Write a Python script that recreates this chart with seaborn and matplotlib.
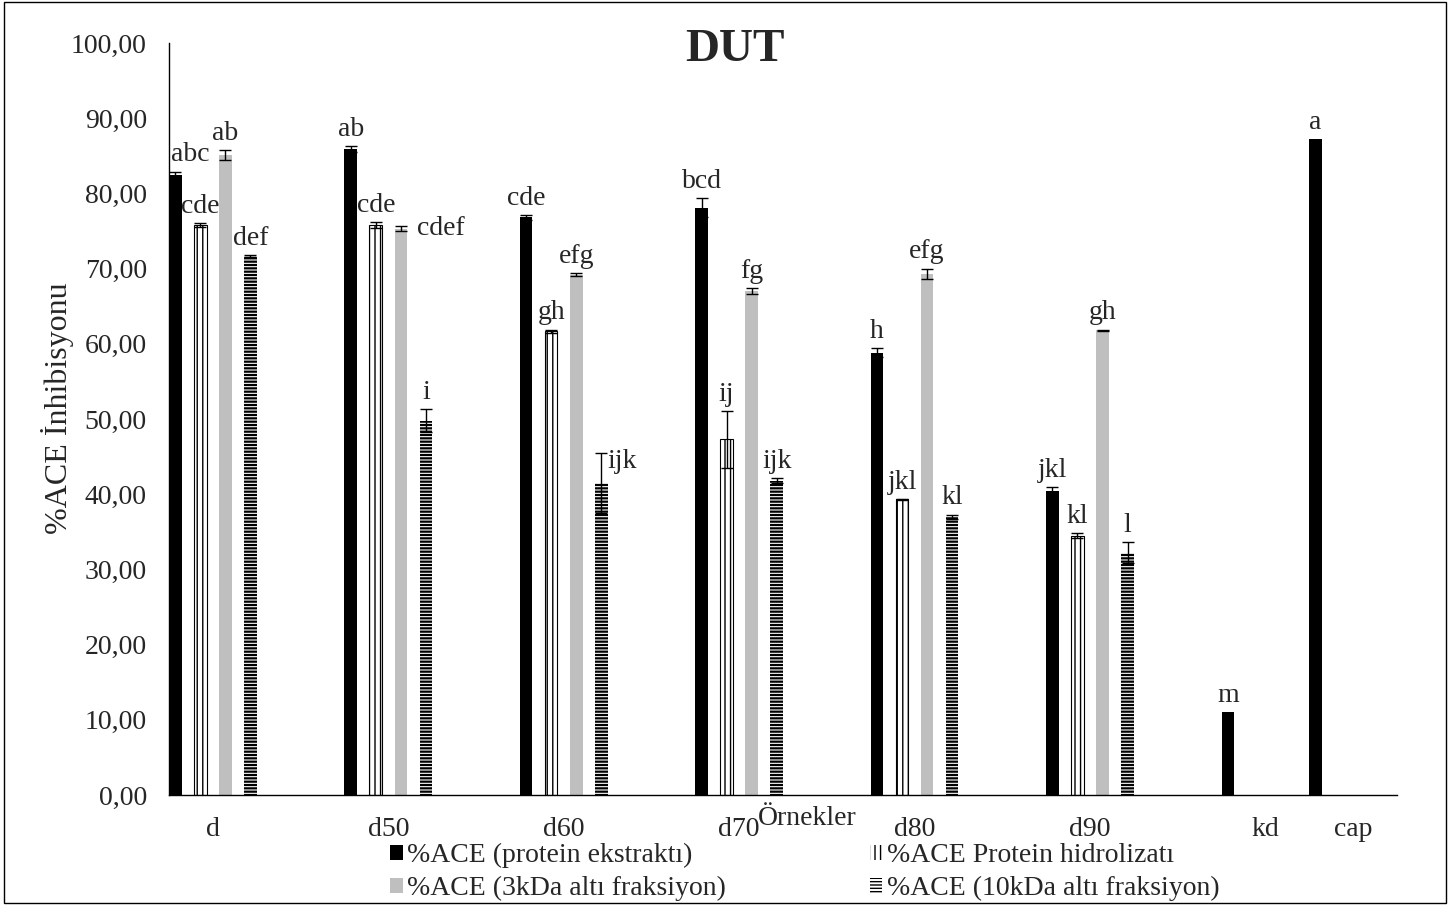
import numpy as np
import pandas as pd
import seaborn as sns
import matplotlib.pyplot as plt
from matplotlib.patches import Patch, Rectangle

# Örnekler ve seriler
samples = ['d', 'd50', 'd60', 'd70', 'd80', 'd90', 'kd', 'cap']
series = ['%ACE (protein ekstraktı)', '%ACE Protein hidrolizatı',
          '%ACE (3kDa altı fraksiyon)', '%ACE (10kDa altı fraksiyon)']

ekstrakt = [82.4, 85.9, 76.8, 78.1, 58.8, 40.4, 11.0, 87.2]
ekstrakt_err = [0.5, 0.4, 0.3, 1.3, 0.6, 0.6, 0.0, 0.0]
ekstrakt_let = ['abc', 'ab', 'cde', 'bcd', 'h', 'jkl', 'm', 'a']

hidrolizat = [75.8, 75.8, 61.7, 47.3, 39.3, 34.5, np.nan, np.nan]
hidrolizat_err = [0.3, 0.4, 0.2, 3.8, 0.1, 0.3, 0.0, 0.0]
hidrolizat_let = ['cde', 'cde', 'gh', 'ij', 'jkl', 'kl', '', '']

kda3 = [85.1, 75.3, 69.2, 67.0, 69.3, 61.8, np.nan, np.nan]
kda3_err = [0.7, 0.3, 0.15, 0.4, 0.7, 0.1, 0.0, 0.0]
kda3_let = ['ab', 'cdef', 'efg', 'fg', 'efg', 'gh', '', '']

kda10 = [71.7, 49.8, 41.5, 41.8, 37.0, 32.2, np.nan, np.nan]
kda10_err = [0.1, 1.5, 4.0, 0.3, 0.3, 1.4, 0.0, 0.0]
kda10_let = ['def', 'i', 'ijk', 'ijk', 'kl', 'l', '', '']

values = [ekstrakt, hidrolizat, kda3, kda10]
errors = [ekstrakt_err, hidrolizat_err, kda3_err, kda10_err]
letters = [ekstrakt_let, hidrolizat_let, kda3_let, kda10_let]

# Excel düzeni: her örnek arasında boş bir kategori, kd ile cap yan yana
cat_order = ['d', '_1', 'd50', '_2', 'd60', '_3', 'd70', '_4',
             'd80', '_5', 'd90', '_6', 'kd', 'cap']
# 7 yuva: seriler 0, 2, 4, 6 numaralı yuvalarda
hue_order = [series[0], '_g1', series[1], '_g2', series[2], '_g3', series[3]]
slot_of = {s: hue_order.index(s) for s in series}

rows = []
for k, s in enumerate(series):
    for j, smp in enumerate(samples):
        if not np.isnan(values[k][j]):
            rows.append({'Örnek': smp, 'Seri': s, 'Değer': values[k][j]})
df = pd.DataFrame(rows)

sns.set_style('white')
plt.rcParams['font.family'] = ['Liberation Serif', 'DejaVu Serif']
plt.rcParams['hatch.linewidth'] = 1.0

fig = plt.figure(figsize=(14.49, 9.06), dpi=100)
ax = fig.add_axes([169 / 1449, 1 - 795 / 906, 1228 / 1449, 752 / 906])

pal = {h: 'white' for h in hue_order}
sns.barplot(data=df, x='Örnek', y='Değer', hue='Seri', order=cat_order,
            hue_order=hue_order, palette=pal, width=1, errorbar=None,
            saturation=1, legend=False, ax=ax)


def style_bar(p, slot):
    if slot == 0:
        p.set_facecolor('black'); p.set_edgecolor('black'); p.set_linewidth(0)
    elif slot == 2:
        p.set_facecolor('white'); p.set_edgecolor('black')
        p.set_hatch('|||'); p.set_linewidth(0.8)
    elif slot == 4:
        p.set_facecolor('#BFBFBF'); p.set_edgecolor('#BFBFBF'); p.set_linewidth(0)
    elif slot == 6:
        p.set_facecolor('white'); p.set_edgecolor('black')
        p.set_hatch('-----'); p.set_linewidth(0)
        if hasattr(p, 'set_hatch_linewidth'):
            p.set_hatch_linewidth(1.6)


# yuvaya göre bar stilleri
for p in ax.patches:
    xc = p.get_x() + p.get_width() / 2
    slot = int(round((xc - round(xc)) * 7 + 3))
    style_bar(p, slot)

# hata çubukları ve harfler
for k, s in enumerate(series):
    off = (slot_of[s] - 3) / 7
    for j, smp in enumerate(samples):
        v = values[k][j]
        if np.isnan(v):
            continue
        x = cat_order.index(smp) + off
        e = errors[k][j]
        if e > 0:
            ax.errorbar(x, v, yerr=e, fmt='none', ecolor='black',
                        elinewidth=1, capsize=4.5, capthick=1)
        lab = letters[k][j]
        if lab == 'cdef':
            ax.annotate(lab, (x, v), xytext=(12, 0), textcoords='offset points',
                        ha='left', va='center', fontsize=20)
        elif smp == 'd60' and k == 3:
            ax.annotate(lab, (x, v + e), xytext=(4, -6), textcoords='offset points',
                        ha='left', va='center', fontsize=20)
        else:
            dx = 11 if (smp == 'd' and k == 0) else 0
            ax.annotate(lab, (x, v + e), xytext=(dx, 3), textcoords='offset points',
                        ha='center', va='bottom', fontsize=20)

ax.set_xlim(-0.5, 13.5)
ax.set_ylim(0, 100)
yt = np.arange(0, 101, 10)
ax.set_yticks(yt)
ax.set_yticklabels([f'{t:.2f}'.replace('.', ',') for t in yt], fontsize=20)
ticks = [cat_order.index(s) for s in samples]
ax.set_xticks(ticks)
ax.set_xticklabels(samples, fontsize=20)
ax.tick_params(axis='both', length=0)
ax.tick_params(axis='y', pad=16)
ax.tick_params(axis='x', pad=16)

ax.set_ylabel('%ACE İnhibisyonu', fontsize=23)
ax.yaxis.set_label_coords(-0.0904, 0.515)
ax.yaxis.label.set_va('center')
ax.set_xlabel('Örnekler', fontsize=20)
ax.xaxis.set_label_coords(0.52, -0.031)
ax.xaxis.label.set_va('center')

sns.despine(ax=ax, top=True, right=True)
for sp in ['left', 'bottom']:
    ax.spines[sp].set_color('black')
    ax.spines[sp].set_linewidth(1)

fig.text(735 / 1449, 1 - 50 / 906, 'DUT', ha='center', va='center',
         fontsize=34, fontweight='bold')

handles = []
for slot in [0, 4, 2, 6]:
    h = Patch(facecolor='white')
    style_bar(h, slot)
    h.set_linewidth(0)
    handles.append(h)
fig.legend(handles, [series[0], series[2], series[1], series[3]],
           loc='upper left', bbox_to_anchor=(390 / 1449, 1 - 843 / 906),
           ncol=2, frameon=False, fontsize=20, handlelength=0.45,
           handleheight=0.45, handletextpad=0.15, columnspacing=5.2,
           labelspacing=0.28, borderpad=0, borderaxespad=0)

fig.patches.append(Rectangle((0.003, 0.003), 0.995, 0.995, transform=fig.transFigure,
                             fill=False, edgecolor='black', linewidth=1))

fig.savefig('out.png', dpi=100)
